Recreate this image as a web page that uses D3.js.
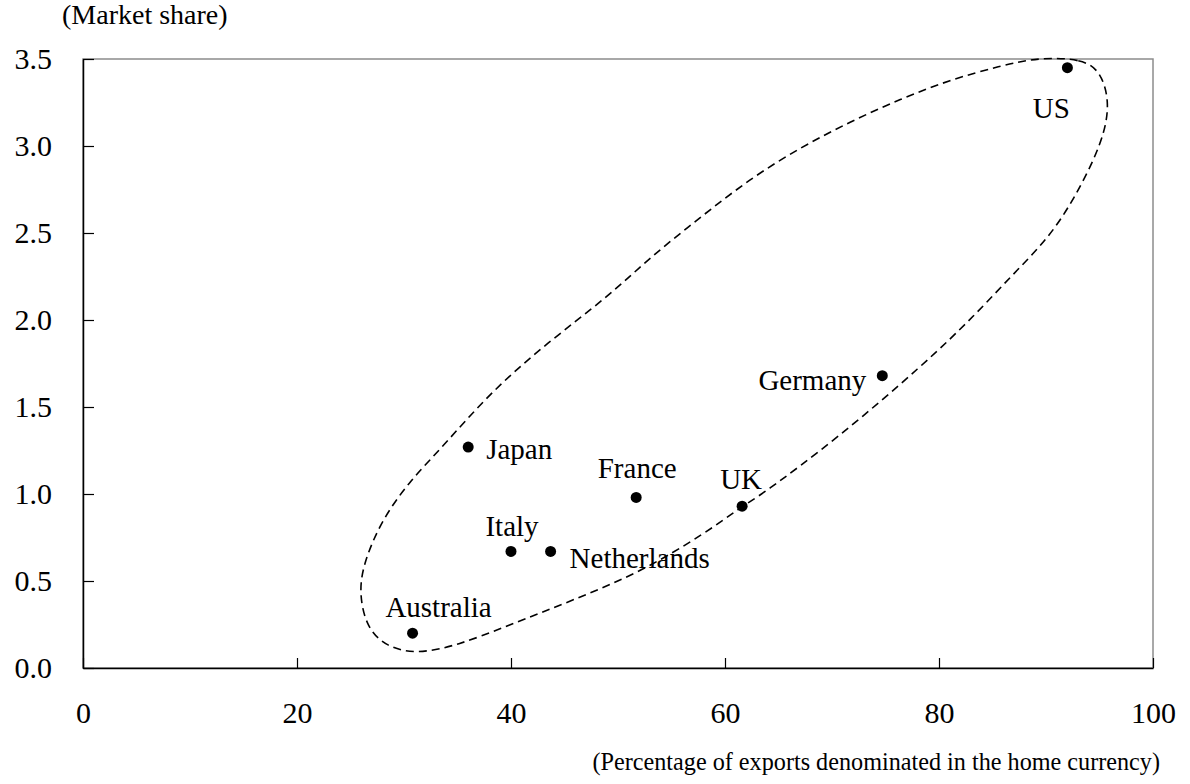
<!DOCTYPE html>
<html>
<head>
<meta charset="utf-8">
<script src="https://cdn.jsdelivr.net/npm/d3@7"></script>
<style>
  body { margin: 0; background: #fff; }
  text { font-family: "Liberation Serif", "Times New Roman", serif; fill: #000; }
</style>
</head>
<body>
<script>
// countries and their values (x = % of exports in home currency, y = market share)
var countries = ["US", "Germany", "Japan", "France", "UK", "Italy", "Netherlands", "Australia"];
var homeCurrencyPct = [92.0, 74.7, 36.0, 51.7, 61.6, 40.0, 43.7, 30.8];
var marketShare = [3.45, 1.68, 1.27, 0.98, 0.93, 0.67, 0.67, 0.20];

var xTicks = [0, 20, 40, 60, 80, 100];
var yTicks = [0, 0.5, 1.0, 1.5, 2.0, 2.5, 3.0, 3.5];

// hand drawn dashed outline around the points, in data units
var outlineX = [89.4, 93.4, 95.1, 96.0, 95.3, 92.6, 90.1, 86.7, 83.4, 78.5, 70.5, 63.3, 61.6, 58.3,
  52.1, 45.8, 39.6, 35.0, 31.2, 28.4, 26.5, 25.8, 26.2, 27.9, 30.6, 33.6, 38.0, 43.4, 49.0,
  53.0, 57.7, 62.3, 67.0, 71.7, 76.4, 81.0, 85.7];
var outlineY = [3.51, 3.50, 3.43, 3.25, 3.02, 2.69, 2.46, 2.25, 2.03, 1.74, 1.32, 0.99, 0.93, 0.78,
  0.55, 0.39, 0.24, 0.13, 0.08, 0.12, 0.23, 0.43, 0.60, 0.85, 1.08, 1.27, 1.58, 1.87, 2.13,
  2.36, 2.59, 2.81, 2.99, 3.14, 3.27, 3.38, 3.46];

var width = 1190, height = 784;
var margin = {left: 83, top: 59, right: 37, bottom: 116};
var graphWidth = width - margin.left - margin.right;
var graphHeight = height - margin.top - margin.bottom;

var data = countries.map(function(c, i) {
  return {name: c, x: homeCurrencyPct[i], y: marketShare[i]};
});

// label placement next to each point: anchor, dx, dy
var labelPos = {
  "US": ["middle", -16, 50],
  "Germany": ["end", -16, 14],
  "Japan": ["start", 18, 12],
  "France": ["middle", 1, -19],
  "UK": ["middle", -1, -17],
  "Italy": ["middle", 1, -15],
  "Netherlands": ["start", 19, 17],
  "Australia": ["middle", 26, -16]
};

var svg = d3.select('body')
  .append('svg')
  .attr('width', width)
  .attr('height', height);

var xScale = d3.scaleLinear().domain([0, 100]).range([0, graphWidth]);
var yScale = d3.scaleLinear().domain([0, 3.5]).range([graphHeight, 0]);

var g = svg.append('g')
  .attr('transform', 'translate(' + margin.left + ',' + margin.top + ')');

// grey frame top/right
g.append('rect')
  .attr('x', 0).attr('y', 0)
  .attr('width', graphWidth).attr('height', graphHeight)
  .attr('fill', 'none')
  .attr('stroke', '#8c8c8c')
  .attr('stroke-width', 1.5);

var yAxis = d3.axisLeft(yScale)
  .tickValues(yTicks)
  .tickFormat(d3.format('.1f'))
  .tickSizeInner(-11)
  .tickSizeOuter(0)
  .tickPadding(31);
var yAxisNodes = g.append('g').call(yAxis);
styleAxisNodes(yAxisNodes);

var xAxis = d3.axisBottom(xScale)
  .tickValues(xTicks)
  .tickFormat(d3.format('d'))
  .tickSizeInner(-10)
  .tickSizeOuter(0)
  .tickPadding(34);
var xAxisNodes = g.append('g')
  .attr('transform', 'translate(0,' + graphHeight + ')')
  .call(xAxis);
styleAxisNodes(xAxisNodes);

// dashed outline
var outline = outlineX.map(function(v, i) { return [v, outlineY[i]]; });
var line = d3.line()
  .x(function(d) { return xScale(d[0]); })
  .y(function(d) { return yScale(d[1]); })
  .curve(d3.curveBasisClosed);
g.append('path')
  .attr('d', line(outline))
  .attr('fill', 'none')
  .attr('stroke', '#000')
  .attr('stroke-width', 1.6)
  .attr('stroke-dasharray', '8,5');

// points
g.selectAll('circle')
  .data(data)
  .enter()
  .append('circle')
  .attr('cx', function(d) { return xScale(d.x); })
  .attr('cy', function(d) { return yScale(d.y); })
  .attr('r', 5.5)
  .attr('fill', '#000');

g.selectAll('.lbl')
  .data(data)
  .enter()
  .append('text')
  .attr('class', 'lbl')
  .attr('x', function(d) { return xScale(d.x) + labelPos[d.name][1]; })
  .attr('y', function(d) { return yScale(d.y) + labelPos[d.name][2]; })
  .attr('text-anchor', function(d) { return labelPos[d.name][0]; })
  .style('font-size', '29px')
  .text(function(d) { return d.name; });

// axis titles
svg.append('text')
  .attr('x', 62)
  .attr('y', 24)
  .style('font-size', '28px')
  .text('(Market share)');

svg.append('text')
  .attr('x', 1160)
  .attr('y', 770)
  .attr('text-anchor', 'end')
  .style('font-size', '24.2px')
  .text('(Percentage of exports denominated in the home currency)');

function styleAxisNodes(axisNodes) {
  axisNodes.selectAll('.domain')
    .attr('stroke', '#000')
    .attr('stroke-width', 1.5);
  axisNodes.selectAll('.tick line')
    .attr('stroke', '#000')
    .attr('stroke-width', 1.2);
  axisNodes.selectAll('.tick text')
    .style('font-size', '30px')
    .style('font-family', '"Liberation Serif", "Times New Roman", serif');
}
</script>
</body>
</html>
